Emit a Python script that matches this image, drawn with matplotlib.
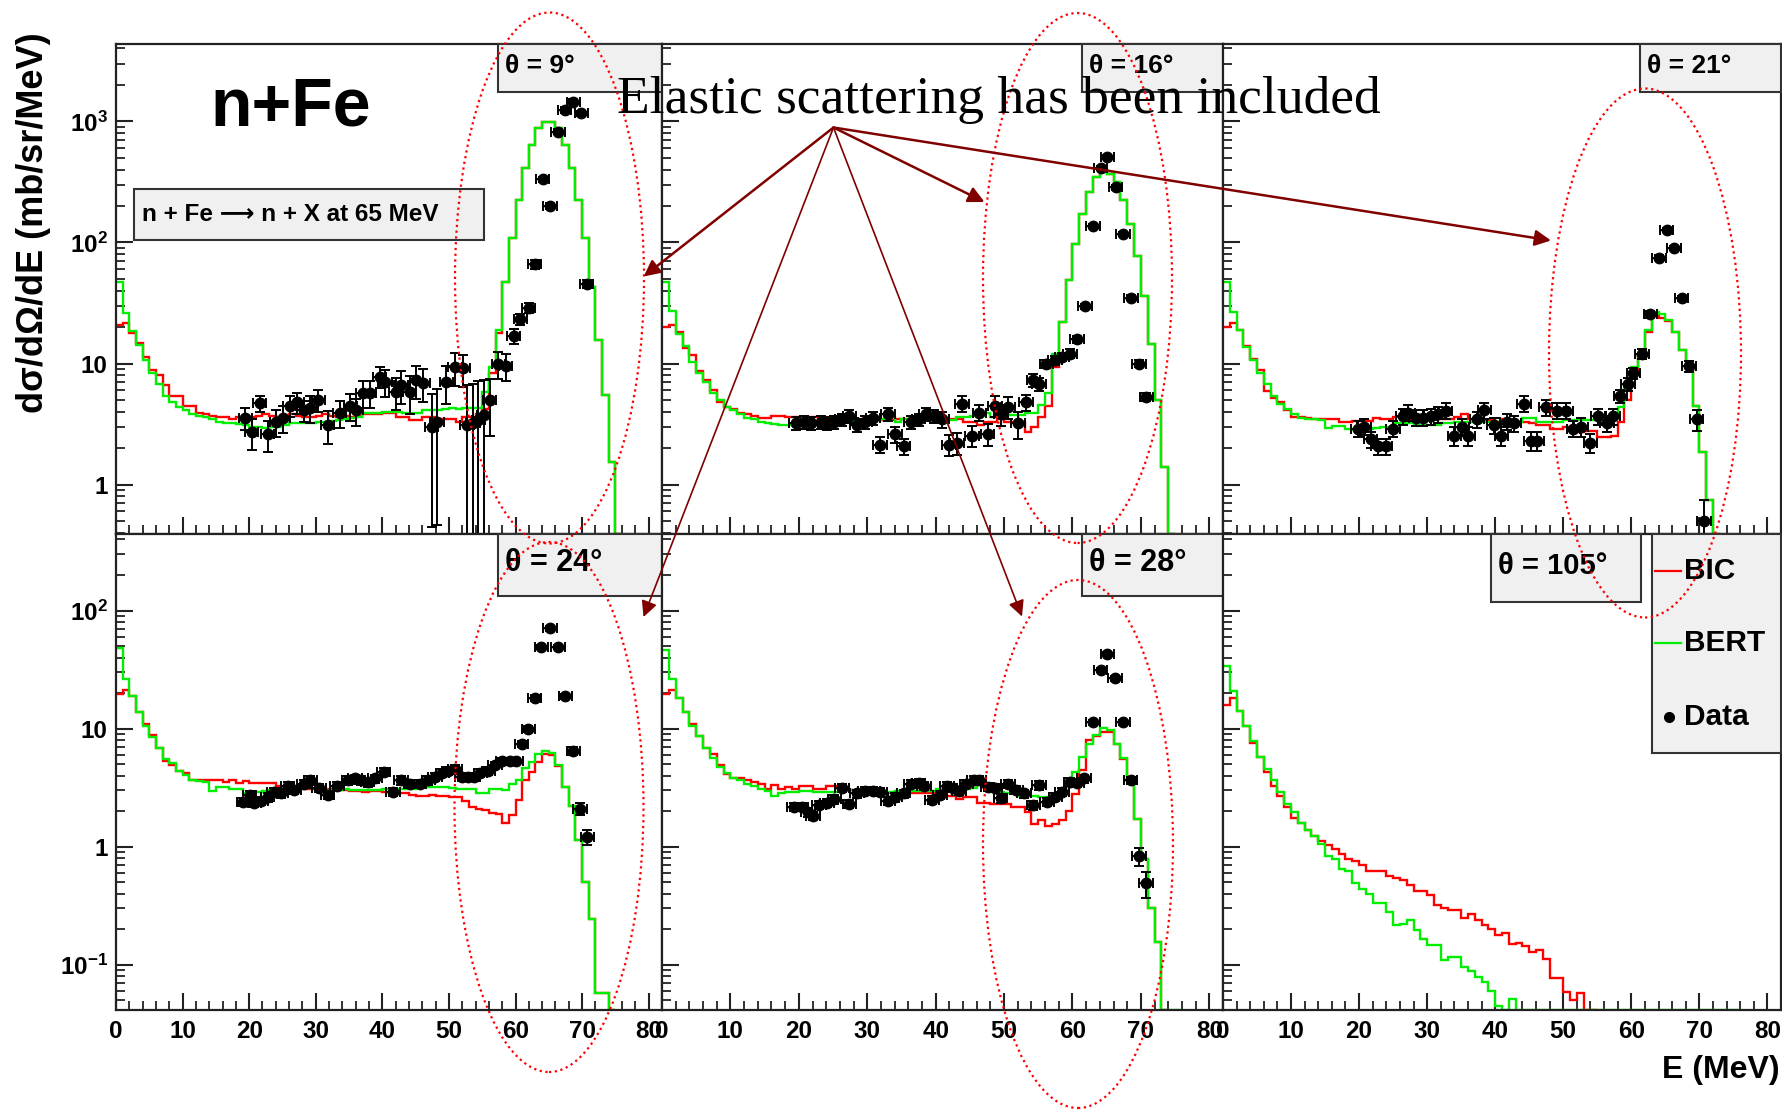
import numpy as np
import matplotlib
matplotlib.use('Agg')
import matplotlib.pyplot as plt
from matplotlib.patches import Rectangle, Ellipse, FancyArrowPatch
from matplotlib.ticker import MultipleLocator, FixedLocator, LogLocator, NullFormatter

plt.rcParams['font.family'] = ['Liberation Sans', 'DejaVu Sans']
plt.rcParams['font.weight'] = 'bold'
plt.rcParams['mathtext.fontset'] = 'custom'
plt.rcParams['mathtext.rm'] = 'Liberation Sans:bold'
plt.rcParams['mathtext.bf'] = 'Liberation Sans:bold'
plt.rcParams['mathtext.it'] = 'Liberation Sans:bold'

W, H = 1783, 1111

# ---------------- data (1 MeV bins starting at 0) ----------------
# theta = 9 deg
bert_9 = [47, 26, 18.5, 14.3, 10.6, 8.3, 6.8, 5.4, 4.8, 4.4,
          4.1, 3.8, 3.7, 3.6, 3.5, 3.3, 3.2, 3.2, 3.15, 3.1,
          3.0, 3.0, 2.95, 3.0, 3.0, 3.1, 3.2, 3.2, 3.2, 3.25,
          3.3, 3.3, 3.35, 3.4, 3.5, 3.55, 3.6, 3.9, 3.9, 3.9,
          4.0, 4.0, 4.0, 3.9, 3.9, 3.9, 4.1, 4.1, 4.1, 4.2,
          4.3, 4.2, 4.3, 4.3, 4.3, 5.8, 9.4, 18.9, 47, 108,
          224, 410, 638, 877, 995, 995, 877, 638, 410, 224,
          108, 43, 15.6, 5.5, 1.55]
bic_9 = [20.8, 21.5, 18, 14.8, 11.3, 8.9, 8.0, 6.6, 5.4, 5.4,
         4.5, 4.5, 3.9, 3.8, 3.7, 3.6, 3.6, 3.5, 3.6, 3.7,
         3.6, 3.7, 3.8, 3.7, 3.6, 3.7, 3.8, 3.7, 3.6, 3.6,
         3.7, 3.8, 3.7, 3.6, 3.7, 3.6, 3.7, 3.8, 3.8, 3.8,
         3.9, 3.9, 3.6, 3.6, 3.4, 3.4, 3.6, 3.6, 3.5, 3.5,
         3.5, 3.3, 3.6, 3.6, 3.8, 4.2, 8.3, 17.8, 47, 108,
         224, 410, 638, 877, 995, 995, 877, 638, 410, 224,
         108, 43, 15.6, 5.5, 1.55]
e_9 = [19.4, 20.4, 21.6, 22.8, 24.1, 25.1, 26.1, 27.2, 28.2, 29.2,
       30.4, 31.8, 33.6, 35.2, 36.1, 37.1, 38.1, 39.6, 40.4, 42.0,
       42.8, 44.1, 45.1, 46.1, 47.4, 48.2, 49.6, 50.9, 52.1, 52.7,
       53.6, 54.4, 55.2, 56.1, 57.4, 58.5, 59.7, 60.7, 62.0, 62.9,
       64.1, 65.2, 66.4, 67.4, 68.7, 69.9, 70.7]
v_9 = [3.56, 2.7, 4.7, 2.6, 3.3, 3.56, 4.5, 4.8, 4.1, 4.3,
       5.0, 3.1, 3.9, 4.5, 4.1, 5.7, 5.7, 7.8, 7.1, 5.85,
       6.65, 5.85, 7.3, 6.9, 3.0, 3.3, 7.1, 9.4, 9.1, 3.1,
       3.2, 3.42, 3.76, 5.0, 10.0, 9.55, 16.9, 23.2, 28.9, 66,
       332, 200, 822, 1242, 1455, 1166, 45.4]
err_9 = [0.2, 0.28, 0.15, 0.28, 0.25, 0.25, 0.2, 0.2, 0.2, 0.25,
         0.2, 0.3, 0.25, 0.25, 0.25, 0.25, 0.25, 0.2, 0.25, 0.3,
         0.3, 0.35, 0.3, 0.3, 0.85, 0.86, 0.35, 0.3, 0.3, 1.15,
         1.1, 1.1, 0.95, 0.5, 0.25, 0.25, 0.15, 0.1, 0.1, 0.08,
         0.05, 0.05, 0.05, 0.05, 0.05, 0.05, 0.08]

# theta = 16 deg
bert_16 = [47, 27.3, 17.5, 14.0, 10.2, 8.3, 7.0, 5.7, 5.0, 4.4,
           4.1, 3.8, 3.56, 3.45, 3.28, 3.2, 3.15, 3.1, 3.1, 3.1,
           3.2, 3.2, 3.2, 3.15, 3.2, 3.3, 3.3, 3.3, 3.35, 3.3,
           3.4, 3.4, 3.5, 3.6, 3.3, 3.5, 3.5, 3.6, 3.6, 3.5,
           3.5, 3.4, 3.4, 3.6, 3.6, 3.7, 3.7, 3.9, 3.6, 3.8,
           3.76, 3.76, 3.76, 3.88, 3.88, 4.54, 5.74, 12.1, 22.2, 49,
           97, 172, 262, 345, 397, 367, 318, 224, 142, 77,
           36.3, 14.5, 5.0, 1.4]
bic_16 = [20.2, 20.8, 18.2, 13.4, 11.7, 8.6, 7.3, 6.1, 4.8, 4.4,
          4.2, 3.9, 3.8, 3.7, 3.56, 3.56, 3.7, 3.7, 3.6, 3.6,
          3.5, 3.6, 3.6, 3.5, 3.5, 3.5, 3.6, 3.6, 3.5, 3.5,
          3.5, 3.5, 3.4, 3.4, 3.5, 3.5, 3.5, 3.6, 3.5, 3.4,
          3.5, 3.5, 3.5, 3.5, 3.3, 3.3, 3.1, 3.3, 3.3, 3.5,
          3.3, 3.3, 3.3, 2.73, 3.0, 3.6, 4.5, 9.4, 22.2, 49,
          97, 172, 262, 345, 397, 367, 318, 224, 142, 77,
          36.3, 14.5, 5.0, 1.4]
e_16 = [19.6, 20.7, 21.8, 23.2, 24.1, 25.2, 26.3, 27.4, 28.5, 29.7,
        30.8, 31.9, 33.0, 34.1, 35.3, 36.4, 37.5, 38.6, 39.7, 40.9,
        42.0, 43.1, 43.9, 45.3, 46.4, 47.6, 48.7, 49.5, 50.6, 52.0,
        53.2, 54.3, 55.1, 56.2, 57.4, 58.5, 59.6, 60.7, 61.8, 63.0,
        64.1, 65.1, 66.3, 67.4, 68.6, 69.7, 70.8]
v_16 = [3.2, 3.3, 3.2, 3.3, 3.2, 3.3, 3.45, 3.68, 3.1, 3.3,
        3.56, 2.14, 3.8, 2.62, 2.07, 3.3, 3.45, 3.8, 3.68, 3.45,
        2.14, 2.21, 4.67, 2.54, 3.94, 2.62, 4.5, 3.8, 4.37, 3.2,
        4.8, 7.3, 6.8, 9.9, 10.6, 11.3, 12.1, 15.8, 29.6, 137,
        415, 510, 285, 117, 35, 10, 5.3]
err_16 = [0.12, 0.12, 0.12, 0.12, 0.12, 0.12, 0.12, 0.12, 0.12, 0.12,
          0.12, 0.15, 0.12, 0.15, 0.15, 0.12, 0.12, 0.12, 0.12, 0.15,
          0.2, 0.2, 0.15, 0.2, 0.15, 0.2, 0.2, 0.2, 0.2, 0.25,
          0.15, 0.12, 0.12, 0.08, 0.08, 0.08, 0.08, 0.06, 0.05, 0.04,
          0.04, 0.04, 0.04, 0.04, 0.05, 0.06, 0.08]

# theta = 21 deg
bert_21 = [47, 26.7, 18.8, 13.8, 10.6, 8.3, 6.8, 5.4, 4.67, 4.2,
           3.8, 3.56, 3.45, 3.45, 3.4, 2.95, 3.07, 3.07, 2.9, 2.8,
           2.8, 2.9, 2.95, 3.0, 3.0, 3.2, 3.2, 3.2, 3.1, 3.1,
           3.1, 3.1, 3.2, 3.2, 3.3, 3.3, 3.3, 3.3, 3.3, 3.3,
           3.3, 3.3, 3.3, 3.3, 3.56, 3.56, 3.3, 3.3, 3.3, 3.3,
           3.4, 3.4, 3.4, 3.4, 3.4, 3.7, 3.7, 3.7, 4.4, 6.6,
           9.3, 12.1, 18.8, 26.4, 25.5, 23, 18.2, 12.9, 9.2, 4.5,
           1.87, 0.75]
bic_21 = [20.2, 21.5, 18.8, 14.0, 10.9, 8.9, 5.9, 5.2, 4.8, 4.1,
          3.6, 3.65, 3.56, 3.5, 3.5, 3.5, 3.5, 3.3, 3.3, 3.35,
          3.35, 3.35, 3.56, 3.5, 3.5, 3.6, 3.6, 3.5, 3.5, 3.5,
          3.5, 3.5, 3.5, 3.5, 3.6, 3.8, 3.5, 3.4, 3.4, 3.4,
          3.3, 3.5, 3.3, 3.3, 3.3, 3.2, 3.1, 3.1, 2.9, 2.9,
          3.0, 3.0, 2.7, 2.75, 2.75, 2.45, 2.45, 2.5, 3.3, 5.0,
          8.0, 12.1, 18.2, 25.5, 23.8, 22.3, 18.2, 12.9, 9.2, 4.5,
          1.87, 0.75]
e_21 = [19.8, 20.7, 21.7, 22.8, 23.9, 25.0, 26.4, 27.2, 28.3, 29.4,
        30.5, 31.6, 32.7, 34.0, 35.1, 36.0, 37.3, 38.4, 39.8, 40.9,
        41.7, 42.8, 44.2, 45.2, 46.1, 47.4, 49.1, 50.4, 51.5, 52.6,
        54.0, 55.1, 56.4, 57.3, 58.4, 59.5, 60.3, 61.6, 62.8, 64.1,
        65.2, 66.3, 67.4, 68.5, 69.6, 70.7]
v_21 = [2.9, 3.0, 2.37, 2.07, 2.07, 2.9, 3.68, 3.94, 3.56, 3.56,
        3.68, 3.8, 4.08, 2.54, 3.0, 2.54, 3.45, 4.13, 3.1, 2.54,
        3.3, 3.2, 4.67, 2.29, 2.29, 4.37, 4.08, 4.08, 2.9, 3.0,
        2.21, 3.68, 3.2, 3.68, 5.35, 6.8, 8.3, 12.1, 25.5, 75,
        127, 90, 34.6, 9.5, 3.45, 0.5]
err_21 = [0.15, 0.15, 0.15, 0.15, 0.15, 0.15, 0.15, 0.15, 0.15, 0.15,
          0.15, 0.15, 0.15, 0.18, 0.15, 0.18, 0.15, 0.15, 0.15, 0.18,
          0.15, 0.15, 0.15, 0.18, 0.18, 0.15, 0.15, 0.15, 0.15, 0.18,
          0.18, 0.15, 0.15, 0.15, 0.12, 0.12, 0.1, 0.1, 0.06, 0.05,
          0.04, 0.04, 0.05, 0.1, 0.2, 0.5]

# theta = 24 deg
bert_24 = [47.7, 26.5, 19, 13.7, 10.6, 8.5, 6.8, 5.5, 5.1, 4.4,
           4.07, 3.65, 3.6, 3.5, 2.97, 3.2, 3.2, 3.08, 3.08, 2.82,
           2.9, 2.9, 2.95, 3.0, 3.0, 3.0, 3.05, 3.15, 3.15, 3.15,
           3.1, 3.0, 3.0, 3.0, 3.05, 3.0, 3.0, 3.0, 3.0, 3.0,
           3.05, 3.05, 3.1, 3.05, 3.1, 3.2, 3.2, 3.2, 3.2, 3.2,
           3.15, 3.1, 3.1, 3.1, 2.87, 2.87, 3.1, 3.1, 3.0, 3.38,
           3.65, 4.6, 5.2, 6.07, 6.47, 6.27, 4.9, 3.2, 2.2, 1.13,
           0.5, 0.245, 0.058, 0.058]
bic_24 = [19.8, 21.3, 19, 13.7, 11, 8.8, 6.8, 5.3, 4.9, 4.4,
          4.2, 3.7, 3.7, 3.65, 3.65, 3.65, 3.5, 3.65, 3.44, 3.6,
          3.44, 3.44, 3.44, 3.44, 3.26, 3.26, 3.1, 3.1, 3.1, 3.1,
          3.1, 3.1, 3.05, 3.0, 3.0, 2.97, 2.97, 2.9, 2.97, 2.97,
          2.9, 2.9, 2.85, 2.85, 2.75, 2.71, 2.71, 2.75, 2.71, 2.71,
          2.62, 2.62, 2.43, 2.18, 2.1, 2.03, 1.93, 1.9, 1.59, 1.87,
          2.47, 3.65, 4.3, 5.2, 6.15, 6.0, 4.8, 3.2, 2.2, 1.13,
          0.5, 0.245, 0.058, 0.058]
e_24 = [19.1, 20.1, 20.8, 21.8, 22.8, 23.7, 24.8, 25.8, 26.8, 28.2,
        29.2, 30.5, 31.8, 33.2, 34.9, 35.9, 36.8, 37.8, 38.9, 40.2,
        41.6, 42.8, 44.2, 45.6, 46.9, 47.9, 49.0, 49.9, 50.9, 51.9,
        52.9, 53.7, 54.7, 55.9, 56.9, 58.0, 59.2, 60.1, 60.9, 61.9,
        62.9, 63.9, 65.2, 66.4, 67.5, 68.7, 69.7, 70.8]
v_24 = [2.38, 2.72, 2.34, 2.43, 2.62, 2.92, 2.82, 3.26, 3.03, 3.39,
        3.65, 3.15, 2.76, 3.26, 3.65, 3.78, 3.65, 3.51, 3.78, 4.28,
        2.92, 3.65, 3.39, 3.39, 3.65, 3.92, 4.22, 4.38, 4.54, 3.92,
        3.92, 3.9, 4.2, 4.4, 4.96, 5.3, 5.3, 5.3, 7.4, 10.0,
        18.2, 49.3, 70.5, 49.3, 18.8, 6.5, 2.1, 1.21]
err_24 = [0.08, 0.08, 0.08, 0.08, 0.08, 0.08, 0.08, 0.08, 0.08, 0.08,
          0.08, 0.08, 0.08, 0.08, 0.08, 0.08, 0.08, 0.08, 0.08, 0.08,
          0.08, 0.08, 0.08, 0.08, 0.08, 0.08, 0.08, 0.08, 0.08, 0.08,
          0.08, 0.08, 0.08, 0.08, 0.06, 0.06, 0.06, 0.06, 0.06, 0.06,
          0.05, 0.04, 0.04, 0.04, 0.05, 0.08, 0.12, 0.15]

# theta = 28 deg
bert_28 = [46, 26.5, 18.1, 13.7, 10.6, 8.7, 6.8, 5.66, 4.7, 4.2,
           3.78, 3.65, 3.39, 3.26, 3.1, 2.97, 2.66, 2.82, 2.88, 2.88,
           2.97, 2.97, 2.88, 2.88, 2.92, 2.92, 3.03, 3.03, 3.03, 3.03,
           2.92, 2.92, 2.92, 2.92, 2.95, 2.97, 2.97, 2.97, 2.97, 2.97,
           3.1, 3.1, 3.1, 3.1, 3.1, 3.15, 3.39, 3.15, 2.92, 2.92,
           2.82, 2.82, 2.68, 2.7, 2.7, 2.62, 2.62, 2.7, 2.92, 3.39,
           4.3, 5.7, 7.4, 8.9, 10.1, 9.7, 7.4, 5.6, 3.65, 1.73,
           0.79, 0.3, 0.156, 0, 0]
bic_28 = [19.5, 21.3, 18.1, 13.7, 11, 8.7, 6.8, 6.1, 4.9, 4.16,
          3.78, 3.78, 3.65, 3.5, 3.39, 3.1, 3.34, 3.1, 3.2, 3.1,
          3.26, 3.26, 3.1, 3.1, 3.26, 3.26, 3.03, 3.03, 3.03, 3.03,
          2.82, 2.82, 2.82, 2.82, 2.82, 2.82, 2.82, 2.82, 2.82, 2.82,
          2.71, 2.71, 2.71, 2.52, 2.62, 2.62, 2.34, 2.34, 2.31, 2.31,
          2.31, 2.18, 2.18, 1.95, 1.55, 1.67, 1.49, 1.55, 1.67, 2.0,
          2.78, 4.44, 8.0, 8.6, 9.4, 9.4, 7.4, 5.5, 3.65, 1.73,
          0.79, 0.3, 0.156]
e_28 = [19.3, 20.4, 21.3, 22.1, 22.9, 24.1, 25.2, 26.3, 27.4, 28.5,
        29.7, 30.8, 31.9, 33.0, 34.1, 35.3, 36.4, 37.5, 38.3, 39.5,
        40.6, 41.7, 42.5, 43.4, 44.5, 45.6, 46.4, 47.6, 48.7, 49.5,
        50.6, 51.8, 52.9, 54.3, 55.1, 56.3, 57.5, 58.5, 59.7, 60.7,
        61.7, 63.0, 64.1, 65.1, 66.2, 67.4, 68.5, 69.7, 70.7]
v_28 = [2.18, 2.18, 1.95, 1.81, 2.26, 2.34, 2.52, 3.15, 2.31, 2.82,
        2.97, 2.97, 2.92, 2.43, 2.62, 2.82, 3.39, 3.44, 3.26, 2.49,
        2.76, 3.26, 3.15, 2.97, 3.39, 3.65, 3.65, 3.2, 3.15, 2.56,
        3.39, 3.03, 2.82, 2.24, 3.31, 2.39, 2.64, 2.91, 3.53, 3.47,
        3.78, 11.3, 31.3, 42.7, 26.6, 11.3, 3.65, 0.83, 0.49]
err_28 = [0.08, 0.08, 0.08, 0.08, 0.08, 0.08, 0.08, 0.08, 0.08, 0.08,
          0.08, 0.08, 0.08, 0.08, 0.08, 0.08, 0.08, 0.08, 0.08, 0.08,
          0.08, 0.08, 0.08, 0.08, 0.08, 0.08, 0.08, 0.08, 0.08, 0.08,
          0.08, 0.08, 0.08, 0.08, 0.08, 0.08, 0.08, 0.08, 0.08, 0.08,
          0.08, 0.05, 0.04, 0.04, 0.04, 0.05, 0.07, 0.18, 0.25]

# theta = 105 deg (no data)
bert_105 = [33.6, 21, 14.2, 10.6, 7.9, 5.75, 4.54, 3.65, 2.88, 2.31,
            1.95, 1.6, 1.37, 1.23, 1.06, 0.84, 0.78, 0.65, 0.62, 0.49,
            0.44, 0.40, 0.33, 0.33, 0.28, 0.215, 0.22, 0.24, 0.195, 0.166,
            0.146, 0.146, 0.109, 0.117, 0.117, 0.096, 0.089, 0.079, 0.072, 0.06,
            0.045, 0, 0.051, 0, 0, 0, 0, 0, 0, 0,
            0, 0, 0, 0, 0, 0, 0, 0, 0, 0,
            0, 0, 0, 0, 0, 0, 0, 0, 0, 0,
            0, 0, 0, 0, 0]
bic_105 = [15.8, 18, 14.2, 10.6, 7.6, 5.75, 4.28, 3.27, 2.68, 2.15,
           1.75, 1.6, 1.37, 1.23, 1.12, 1.03, 0.96, 0.87, 0.79, 0.76,
           0.70, 0.62, 0.62, 0.62, 0.56, 0.54, 0.52, 0.47, 0.42, 0.42,
           0.39, 0.32, 0.30, 0.29, 0.29, 0.25, 0.27, 0.24, 0.215, 0.2,
           0.18, 0.185, 0.149, 0.154, 0.143, 0.129, 0.133, 0.111, 0.077, 0.077,
           0.059, 0.050, 0.057, 0]

titles = ['θ = 9°', 'θ = 16°', 'θ = 21°', 'θ = 24°', 'θ = 28°', 'θ = 105°']
bic_all = [bic_9, bic_16, bic_21, bic_24, bic_28, bic_105]
bert_all = [bert_9, bert_16, bert_21, bert_24, bert_28, bert_105]
data_all = [(e_9, v_9, err_9), (e_16, v_16, err_16), (e_21, v_21, err_21),
            (e_24, v_24, err_24), (e_28, v_28, err_28), None]

x_ticks = [0, 10, 20, 30, 40, 50, 60, 70, 80]
x_ticklabels = ['0', '10', '20', '30', '40', '50', '60', '70', '80']
y_ticks_top = [1, 10, 100, 1000]
y_labels_top = ['1', '10', r'$\mathbf{10^{2}}$', r'$\mathbf{10^{3}}$']
y_ticks_bot = [0.1, 1, 10, 100]
y_labels_bot = [r'$\mathbf{10^{-1}}$', '1', '10', r'$\mathbf{10^{2}}$']

# ---------------- layout ----------------
col_px = [(116, 546), (662, 561), (1223, 558)]
row_px = [(44, 490), (534, 476)]
ylims = [(0.391, 4355), (0.0413, 445)]
# theta boxes in axes fractions (x0, y0, x1, y1)
box_pos = [(0.70, 0.902, 1.0, 1.0), (0.749, 0.902, 1.0, 1.0), (0.748, 0.902, 1.0, 1.0),
           (0.70, 0.869, 1.0, 1.0), (0.749, 0.869, 1.0, 1.0), (0.48, 0.857, 0.75, 1.0)]
box_fs = [19, 19, 19, 22, 22, 21]

fig = plt.figure(figsize=(W / 100, H / 100), dpi=100)

for i in range(6):
    r, c = divmod(i, 3)
    x0, w = col_px[c]
    y0, h = row_px[r]
    ax = fig.add_axes([x0 / W, 1 - (y0 + h) / H, w / W, h / H])
    ylo, yhi = ylims[r]
    ax.set_yscale('log')

    bic = np.array(bic_all[i] + [0.0], dtype=float)
    bert = np.array(bert_all[i] + [0.0], dtype=float)
    ax.stairs(np.where(bic > 0, bic, ylo), np.arange(len(bic) + 1),
              color='#ff0000', lw=1.7, baseline=None, zorder=2)
    ax.stairs(np.where(bert > 0, bert, ylo), np.arange(len(bert) + 1),
              color='#00ee00', lw=1.7, baseline=None, zorder=2.1)

    if data_all[i] is not None:
        e, v, err = data_all[i]
        v = np.array(v)
        dy = v * np.array(err)
        lo = np.minimum(dy, v * 0.999)
        ax.errorbar(e, v, xerr=1.0, yerr=[lo, dy], fmt='o', color='black',
                    ms=7.5, elinewidth=1.4, capsize=3.5, capthick=1.4, zorder=4)

    ax.set_xlim(0, 82)
    ax.set_ylim(ylo, yhi)
    ax.xaxis.set_major_locator(FixedLocator(x_ticks))
    ax.xaxis.set_minor_locator(MultipleLocator(2))
    ticks = y_ticks_top if r == 0 else y_ticks_bot
    ax.yaxis.set_major_locator(FixedLocator(ticks))
    ax.yaxis.set_minor_locator(LogLocator(base=10, subs=np.arange(2, 10), numticks=30))
    ax.yaxis.set_minor_formatter(NullFormatter())
    if c == 0:
        ax.set_yticklabels(y_labels_top if r == 0 else y_labels_bot)
    else:
        ax.tick_params(axis='y', labelleft=False)
    if r == 1:
        ax.set_xticklabels(x_ticklabels)
    else:
        ax.tick_params(axis='x', labelbottom=False)

    ax.tick_params(which='both', direction='in', top=False, right=False, labelsize=17.5,
                   color='#222222')
    ax.tick_params(axis='y', which='major', length=12, width=1.5, pad=6)
    ax.tick_params(axis='y', which='minor', length=6.5, width=1.3)
    ax.tick_params(axis='x', which='major', length=12, width=1.5, pad=7)
    ax.tick_params(axis='x', which='minor', length=6.5, width=1.3)
    for sp in ax.spines.values():
        sp.set_linewidth(1.6)
        sp.set_color('#222222')

    bx0, by0, bx1, by1 = box_pos[i]
    ax.add_patch(Rectangle((bx0, by0), bx1 - bx0, by1 - by0, transform=ax.transAxes,
                           facecolor='#f0f0f0', edgecolor='#333333', lw=1.5,
                           zorder=5, clip_on=False))
    ax.text(bx0 + 0.012, (by0 + by1) / 2 + 0.005, titles[i], transform=ax.transAxes,
            fontsize=box_fs[i], ha='left', va='center', zorder=6)

    if i == 0:
        ax.add_patch(Rectangle((0.033, 0.60), 0.641, 0.104, transform=ax.transAxes,
                               facecolor='#f0f0f0', edgecolor='#333333', lw=1.5, zorder=5))
        ax.text(0.048, 0.653, 'n + Fe ⟶ n + X at 65 MeV', transform=ax.transAxes,
                fontsize=17.5, ha='left', va='center', zorder=6)

    if i == 5:
        ax.add_patch(Rectangle((0.769, 0.54), 0.231, 0.46, transform=ax.transAxes,
                               facecolor='#f0f0f0', edgecolor='#333333', lw=1.5,
                               zorder=5, clip_on=False))
        ax.plot([0.774, 0.821], [0.922, 0.922], transform=ax.transAxes,
                color='#ff0000', lw=1.6, zorder=6)
        ax.plot([0.774, 0.821], [0.772, 0.772], transform=ax.transAxes,
                color='#00ee00', lw=1.6, zorder=6)
        ax.plot([0.799], [0.616], 'o', transform=ax.transAxes, color='black',
                ms=7, zorder=6)
        for name, yy in [('BIC', 0.922), ('BERT', 0.772), ('Data', 0.616)]:
            ax.text(0.826, yy, name, transform=ax.transAxes, fontsize=21.5,
                    ha='left', va='center', zorder=6)

# ---------------- figure-level annotations ----------------
fig.text(34 / W, 1 - 32 / H, 'dσ/dΩ/dE (mb/sr/MeV)', rotation=90, fontsize=26,
         ha='center', va='top')
fig.text(1780 / W, 1 - 1078 / H, 'E (MeV)', fontsize=23, ha='right', va='baseline')
fig.text(291 / W, 1 - 108 / H, 'n+Fe', fontsize=49, ha='center', va='center')
fig.text(617 / W, 1 - 113 / H, 'Elastic scattering has been included',
         family=['Liberation Serif', 'DejaVu Serif'], fontweight='normal',
         fontsize=38.5, ha='left', va='baseline')

ellipses = [(549.5, 278, 189, 531), (1077.5, 278, 189, 530), (1645, 353, 192, 529),
            (549, 807, 189, 530), (1078, 844, 190, 528)]
for cx, cy, ew, eh in ellipses:
    fig.add_artist(Ellipse((cx / W, 1 - cy / H), ew / W, eh / H, transform=fig.transFigure,
                           fill=False, edgecolor='#ff0000', lw=1.6,
                           linestyle=(0, (1, 1.6))))

arrow_src = (833.5, 127.5)
arrow_dst = [(643.7, 276.5, 1.8), (984.5, 202, 1.8), (1551, 240.5, 1.8),
             (643.5, 617, 1.2), (1022, 616.5, 1.2)]
for tx, ty, lw in arrow_dst:
    fig.add_artist(FancyArrowPatch((arrow_src[0] / W, 1 - arrow_src[1] / H), (tx / W, 1 - ty / H),
                                   transform=fig.transFigure, arrowstyle='-|>',
                                   mutation_scale=24, color='#800000', lw=lw,
                                   shrinkA=0, shrinkB=0))

fig.savefig('out.png', dpi=100)
